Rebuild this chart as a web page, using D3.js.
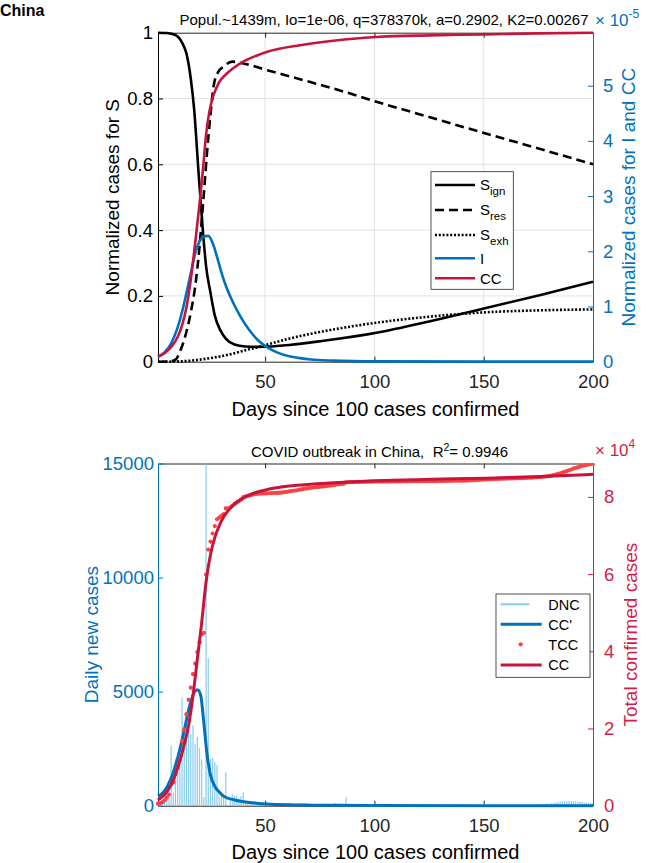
<!DOCTYPE html>
<html><head><meta charset="utf-8">
<script src="https://cdn.jsdelivr.net/npm/d3@7/dist/d3.min.js"></script>
<style>
body{margin:0;background:#fff}
svg{font-family:"Liberation Sans",Arial,Helvetica,sans-serif}
text{white-space:pre}
</style>
</head><body>
<svg id="c" width="646" height="863"></svg>
<script>
// ---------- TOP PANEL DATA (model curves) ----------
const sIgnDays = [1,5,9,12,14,16,17.5,19.5,21.5,23,25,27,29.5,32,36,41,46,51,61,76,101,126,151,176,200];
const sIgnVals = [1.0,0.999,0.993,0.97,0.937,0.86,0.77,0.58,0.40,0.29,0.21,0.14,0.096,0.07,0.052,0.046,0.045,0.046,0.051,0.063,0.088,0.124,0.163,0.203,0.243];
const sResDays = [1,6,9,11,13.4,16,18,20,21,22.2,23.4,25,26.4,28.5,31,35,39,51,70.7,87.5,102.5,125.4,150.2,175.1,200];
const sResVals = [0,0.001,0.006,0.03,0.076,0.15,0.228,0.35,0.43,0.53,0.633,0.75,0.836,0.88,0.897,0.912,0.908,0.886,0.85,0.818,0.787,0.743,0.695,0.648,0.600];
const sExhDays = [1,11,16,21,26,31,36,41,46,51,61,71,87.5,102.5,125.4,150.2,175.1,200];
const sExhVals = [0,0.001,0.003,0.007,0.012,0.018,0.026,0.035,0.043,0.052,0.07,0.085,0.105,0.12,0.137,0.15,0.156,0.159];
// right axis units: x 1e-5
const iDays = [1,4,7,10,12,14,16,18,20,22,24,26,28,30,32,35,39,43,47,51,56,61,66,71,81,101,150,200];
const iVals = [0.09,0.17,0.33,0.62,0.9,1.24,1.6,1.96,2.18,2.27,2.28,2.15,1.9,1.62,1.38,1.1,0.8,0.56,0.38,0.26,0.16,0.1,0.065,0.04,0.02,0.006,0.002,0.001];
const ccTopDays = [1,4,7,10,12,14,16,18,20,21.5,23,24.5,26.4,29,32.5,36,40,46,51,66,87.5,102.5,125.4,150.2,175.1,200];
const ccTopVals = [0.095,0.155,0.268,0.447,0.656,0.983,1.49,2.146,2.861,3.457,4.112,4.53,4.828,5.066,5.221,5.334,5.436,5.543,5.614,5.734,5.841,5.888,5.912,5.93,5.948,5.96];
const topLeftTicks = [0,0.2,0.4,0.6,0.8,1];
const topRightTicks = [0,1,2,3,4,5];
const xTicks = [50,100,150,200];

// ---------- BOTTOM PANEL DATA ----------
// daily new cases, day 1..200
const dnc = [131,95,277,486,669,802,2632,578,2054,1661,2089,4739,3086,3991,3733,3147,3523,2704,3015,2525,
2032,373,15136,6463,2055,2100,1921,1777,408,458,473,1451,21,219,513,412,434,328,428,576,
204,125,125,151,153,80,53,37,27,34,11,13,32,26,30,25,44,54,94,55,
130,63,93,70,121,115,102,123,76,81,82,71,79,32,59,63,53,91,74,58,
73,120,79,93,50,47,357,27,18,12,36,15,16,15,10,3,6,22,4,12,
3,0,5,2,4,5,1,14,0,20,1,7,6,5,9,6,10,9,0,18,
3,11,7,1,3,0,0,1,3,17,5,18,8,5,12,6,9,5,7,12,
6,12,32,30,30,35,35,40,30,40,30,30,30,25,25,20,20,20,20,20,
20,15,15,15,15,20,20,20,25,25,30,30,30,40,40,40,50,60,80,90,
110,130,140,160,170,180,190,200,200,200,200,190,180,170,160,150,140,130,120,110];
// total confirmed cases, day 1..200
const tcc = [548,643,920,1406,2075,2877,5509,6087,8141,9802,11891,16630,19716,23707,27440,30587,34110,36814,39829,42354,
44386,44759,59895,66358,68413,70513,72434,74211,74619,75077,75550,77001,77022,77241,77754,78166,78600,78928,79356,79932,
80136,80261,80386,80537,80690,80770,80823,80860,80887,80921,80932,80945,80977,81003,81033,81058,81102,81156,81250,81305,
81435,81498,81591,81661,81782,81897,81999,82122,82198,82279,82361,82432,82511,82543,82602,82665,82718,82809,82883,82941,
83014,83134,83213,83306,83356,83403,83760,83787,83805,83817,83853,83868,83884,83899,83909,83912,83918,83940,83944,83956,
83959,83959,83964,83966,83970,83975,83976,83990,83990,84010,84011,84018,84024,84029,84038,84044,84054,84063,84063,84081,
84084,84095,84102,84103,84106,84106,84106,84107,84110,84123,84128,84146,84154,84159,84171,84177,84186,84191,84198,84210,
84216,84228,84260,84290,84320,84355,84390,84430,84460,84500,84530,84560,84590,84615,84640,84660,84680,84700,84720,84740,
84760,84775,84790,84805,84820,84840,84860,84880,84905,84930,84960,84990,85020,85060,85100,85140,85190,85250,85330,85420,
85530,85660,85800,85960,86130,86310,86500,86700,86900,87100,87300,87490,87670,87840,88000,88150,88290,88420,88540,88650];
// fitted curves
const ccpDays = [1,4,7,10,13,15,17,19,20.5,22,23.5,25,27,29,31,36,41,46,51,61,71,81,101,150,200];
const ccpVals = [420,650,1200,2100,3300,4200,4850,5080,4850,3600,2200,1350,850,600,420,250,160,110,75,40,25,15,8,3,2];
const ccDays = [1,4,7,10,13,15,17,19,21,23,25,27,29,31,34,37,41,46,51,61,71,86,101,126,151,176,200];
const ccVals = [1500,2900,5400,9800,15800,20800,28500,38000,47500,58000,65000,69500,72500,74800,77000,78600,80000,81200,81900,82800,83300,83800,84200,84550,84850,85300,85850];
const botLeftTicks = [0,5000,10000,15000];
const botRightTicks = [0,20000,40000,60000,80000];

// ---------- STYLE ----------
const blue='#0072BD', red='#C8143C', rAxis='#D21E46', dotRed='#FF4040', barBlue='#86CCEF',
      axisCol='#262626', gridCol='#E2E2E2';
const tickFs = 18.5, labFs = 19, titFs = 15, legFs = 15, xlabFs = 20;

const svg = d3.select('#c');
const X0=158, X1=593;
const T={top:32.7,bot:361.7}, B={top:463.5,bot:805.7};

const x = d3.scaleLinear().domain([1,200]).range([X0,X1]);
const yTL = d3.scaleLinear().domain([0,1]).range([T.bot,T.top]);
const yTR = d3.scaleLinear().domain([0,5.96]).range([T.bot,T.top]);
const yBL = d3.scaleLinear().domain([0,15000]).range([B.bot,B.top]);
const yBR = d3.scaleLinear().domain([0,88650]).range([B.bot,B.top]);

const defs = svg.append('defs');
defs.append('clipPath').attr('id','clipT').append('rect').attr('x',X0-2).attr('y',T.top-2).attr('width',X1-X0+4).attr('height',T.bot-T.top+4);
defs.append('clipPath').attr('id','clipB').append('rect').attr('x',X0-2).attr('y',B.top).attr('width',X1-X0+4).attr('height',B.bot-B.top+2);
defs.append('clipPath').attr('id','clipBars').append('rect').attr('x',X0).attr('y',B.top).attr('width',X1-X0).attr('height',B.bot-B.top);

function styleAxis(g,color,fs){
  g.select('.domain').attr('stroke',color).attr('stroke-width',1);
  g.selectAll('.tick line').attr('stroke',color).attr('stroke-width',1);
  g.selectAll('.tick text').attr('fill',color).attr('font-size',fs).attr('font-family','"Liberation Sans",Arial,sans-serif');
}
function zip(d,v){return d.map((k,i)=>[k,v[i]]);}

// ---------- TOP PANEL ----------
const gT = svg.append('g');
gT.append('g').selectAll('line').data([50,100,150]).join('line')
  .attr('x1',d=>x(d)).attr('x2',d=>x(d)).attr('y1',T.top).attr('y2',T.bot).attr('stroke',gridCol);
gT.append('g').selectAll('line').data([0.2,0.4,0.6,0.8]).join('line')
  .attr('y1',d=>yTL(d)).attr('y2',d=>yTL(d)).attr('x1',X0).attr('x2',X1).attr('stroke',gridCol);
gT.append('g').attr('transform',`translate(0,${T.bot})`)
  .call(d3.axisBottom(x).tickValues(xTicks).tickSizeInner(-5).tickSizeOuter(0).tickPadding(13))
  .call(g=>styleAxis(g,axisCol,tickFs));
gT.append('g').attr('transform',`translate(0,${T.top})`)
  .call(d3.axisTop(x).tickValues(xTicks).tickSizeInner(-5).tickSizeOuter(0).tickFormat(''))
  .call(g=>styleAxis(g,axisCol,tickFs));
gT.append('g').attr('transform',`translate(${X0},0)`)
  .call(d3.axisLeft(yTL).tickValues(topLeftTicks).tickSizeInner(-5).tickSizeOuter(0).tickPadding(5).tickFormat(d3.format('')))
  .call(g=>styleAxis(g,'#000',tickFs));
gT.append('g').attr('transform',`translate(${X1},0)`)
  .call(d3.axisRight(yTR).tickValues(topRightTicks).tickSizeInner(-5).tickSizeOuter(0).tickPadding(10).tickFormat(d3.format('d')))
  .call(g=>styleAxis(g,blue,tickFs));

const lineL = d3.line().x(d=>x(d[0])).y(d=>yTL(d[1])).curve(d3.curveMonotoneX);
const lineR = d3.line().x(d=>x(d[0])).y(d=>yTR(d[1])).curve(d3.curveMonotoneX);
const cT = gT.append('g').attr('clip-path','url(#clipT)').attr('fill','none').attr('stroke-width',2.6);
cT.append('path').attr('d',lineL(zip(sIgnDays,sIgnVals))).attr('stroke','#000');
cT.append('path').attr('d',lineL(zip(sResDays,sResVals))).attr('stroke','#000').attr('stroke-dasharray','9,5');
cT.append('path').attr('d',lineL(zip(sExhDays,sExhVals))).attr('stroke','#000').attr('stroke-dasharray','2,1.8');
cT.append('path').attr('d',lineR(zip(iDays,iVals))).attr('stroke',blue);
cT.append('path').attr('d',lineR(zip(ccTopDays,ccTopVals))).attr('stroke',red);

svg.append('text').attr('x',0).attr('y',16).attr('font-size',16).attr('font-weight','bold').text('China');
svg.append('text').attr('x',384).attr('y',25).attr('text-anchor','middle').attr('font-size',titFs)
  .text('Popul.~1439m, Io=1e-06, q=378370k, a=0.2902, K2=0.00267');
const e1 = svg.append('text').attr('x',595).attr('y',26).attr('font-size',17).attr('fill',blue);
e1.append('tspan').text('\u00D7 10');
e1.append('tspan').attr('dy',-8).attr('font-size',12).text('-5');
svg.append('text').attr('transform',`translate(118.5,${(T.top+T.bot)/2}) rotate(-90)`).attr('text-anchor','middle')
  .attr('font-size',labFs).text('Normalized cases for S');
svg.append('text').attr('transform',`translate(635,${(T.top+T.bot)/2}) rotate(-90)`).attr('text-anchor','middle')
  .attr('font-size',labFs).attr('fill',blue).text('Normalized cases for I and CC');
svg.append('text').attr('x',(X0+X1)/2).attr('y',416).attr('text-anchor','middle').attr('font-size',xlabFs)
  .text('Days since 100 cases confirmed');

const lgT = svg.append('g');
lgT.append('rect').attr('x',431).attr('y',171.7).attr('width',82.3).attr('height',117.6)
  .attr('fill','#fff').attr('stroke',axisCol).attr('stroke-width',0.8);
const topLeg = [
  {main:'S',sub:'ign',col:'#000',dash:null,y:185},
  {main:'S',sub:'res',col:'#000',dash:'9,5',y:210},
  {main:'S',sub:'exh',col:'#000',dash:'2,1.8',y:235},
  {main:'I',sub:'',col:blue,dash:null,y:258.3},
  {main:'CC',sub:'',col:red,dash:null,y:278.3}
];
topLeg.forEach(e=>{
  lgT.append('line').attr('x1',435).attr('x2',475).attr('y1',e.y).attr('y2',e.y)
    .attr('stroke',e.col).attr('stroke-width',2.6).attr('stroke-dasharray',e.dash);
  const t = lgT.append('text').attr('x',480).attr('y',e.y+5.3).attr('font-size',legFs);
  t.append('tspan').text(e.main);
  if(e.sub) t.append('tspan').attr('dy',5).attr('font-size',11.5).text(e.sub);
});

// ---------- BOTTOM PANEL ----------
const gB = svg.append('g');
gB.append('g').attr('transform',`translate(0,${B.bot})`)
  .call(d3.axisBottom(x).tickValues(xTicks).tickSizeInner(-5).tickSizeOuter(0).tickPadding(13))
  .call(g=>styleAxis(g,axisCol,tickFs));
gB.append('g').attr('transform',`translate(0,${B.top})`)
  .call(d3.axisTop(x).tickValues(xTicks).tickSizeInner(-5).tickSizeOuter(0).tickFormat(''))
  .call(g=>styleAxis(g,axisCol,tickFs));
gB.append('g').attr('transform',`translate(${X0},0)`)
  .call(d3.axisLeft(yBL).tickValues(botLeftTicks).tickSizeInner(-5).tickSizeOuter(0).tickPadding(4).tickFormat(d3.format('')))
  .call(g=>styleAxis(g,blue,tickFs));
gB.append('g').attr('transform',`translate(${X1},0)`)
  .call(d3.axisRight(yBR).tickValues(botRightTicks).tickSizeInner(-5).tickSizeOuter(0).tickPadding(11).tickFormat(d=>d/10000))
  .call(g=>styleAxis(g,rAxis,tickFs));

const days = d3.range(1,201);
gB.append('g').attr('clip-path','url(#clipBars)').selectAll('line').data(days).join('line')
  .attr('x1',d=>x(d)).attr('x2',d=>x(d)).attr('y1',yBL(0)).attr('y2',d=>yBL(dnc[d-1]))
  .attr('stroke',barBlue).attr('stroke-width',1.2);
const cB = gB.append('g').attr('clip-path','url(#clipB)');
cB.append('path').attr('fill','none').attr('stroke',blue).attr('stroke-width',3)
  .attr('d',d3.line().x(d=>x(d[0])).y(d=>yBL(d[1])).curve(d3.curveMonotoneX)(zip(ccpDays,ccpVals)));
cB.append('g').selectAll('circle').data(days).join('circle')
  .attr('cx',d=>x(d)).attr('cy',d=>yBR(tcc[d-1])).attr('r',2.1).attr('fill',dotRed);
cB.append('path').attr('fill','none').attr('stroke',red).attr('stroke-width',3)
  .attr('d',d3.line().x(d=>x(d[0])).y(d=>yBR(d[1])).curve(d3.curveMonotoneX)(zip(ccDays,ccVals)));

const t2 = svg.append('text').attr('x',379.5).attr('y',457).attr('text-anchor','middle').attr('font-size',titFs);
t2.append('tspan').text('COVID outbreak in China,  R');
t2.append('tspan').attr('dy',-6).attr('font-size',10.5).text('2');
t2.append('tspan').attr('dy',6).text('= 0.9946');
const e2 = svg.append('text').attr('x',595).attr('y',456).attr('font-size',17).attr('fill',rAxis);
e2.append('tspan').text('\u00D7 10');
e2.append('tspan').attr('dy',-8).attr('font-size',12).text('4');
svg.append('text').attr('transform',`translate(98,${(B.top+B.bot)/2}) rotate(-90)`).attr('text-anchor','middle')
  .attr('font-size',labFs).attr('fill',blue).text('Daily new cases');
svg.append('text').attr('transform',`translate(637,${(B.top+B.bot)/2}) rotate(-90)`).attr('text-anchor','middle')
  .attr('font-size',labFs).attr('fill',rAxis).text('Total confirmed cases');
svg.append('text').attr('x',(X0+X1)/2).attr('y',859).attr('text-anchor','middle').attr('font-size',xlabFs)
  .text('Days since 100 cases confirmed');

const lgB = svg.append('g');
lgB.append('rect').attr('x',496).attr('y',594).attr('width',94).attr('height',83.3)
  .attr('fill','#fff').attr('stroke',axisCol).attr('stroke-width',0.8);
lgB.append('line').attr('x1',500.7).attr('x2',529.3).attr('y1',604.3).attr('y2',604.3).attr('stroke',barBlue).attr('stroke-width',2);
lgB.append('line').attr('x1',500.7).attr('x2',541.7).attr('y1',624.3).attr('y2',624.3).attr('stroke',blue).attr('stroke-width',3);
lgB.append('circle').attr('cx',520.7).attr('cy',644.3).attr('r',2.1).attr('fill',dotRed);
lgB.append('line').attr('x1',500.7).attr('x2',541.7).attr('y1',665).attr('y2',665).attr('stroke',red).attr('stroke-width',3);
[['DNC',604.3],["CC'",624.3],['TCC',644.3],['CC',665]].forEach(([s,y])=>{
  lgB.append('text').attr('x',548.3).attr('y',y+5.2).attr('font-size',14.5).text(s);
});
</script>
</body></html>
